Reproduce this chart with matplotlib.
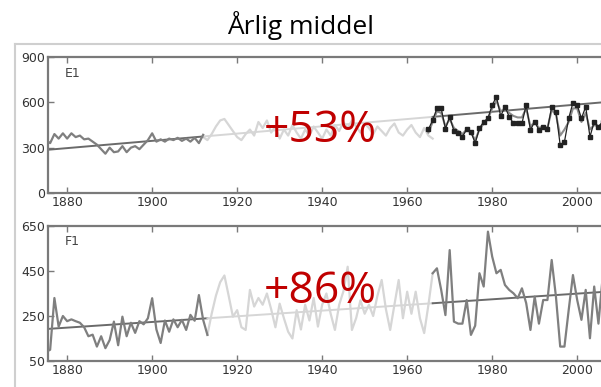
import numpy as np
import matplotlib
matplotlib.use("Agg")
import matplotlib.pyplot as plt
from matplotlib.lines import Line2D

# ---- data ----
e1_early_years = list(range(1875, 1913))
e1_early = [350, 330, 390, 360, 395, 360, 395, 370, 380, 355, 360, 340, 320, 290, 260,
            300, 270, 275, 310, 270, 300, 310, 290, 320, 350, 395, 340, 355, 340, 360,
            350, 365, 345, 360, 340, 365, 330, 385]
e1_mid_years = list(range(1912, 1967))
e1_mid = [370, 350, 390, 440, 480, 490, 450, 410, 370, 350, 390, 420, 380, 470, 430,
          480, 400, 440, 360, 420, 380, 450, 400, 360, 420, 380, 440, 400, 360, 420,
          380, 450, 410, 470, 430, 480, 440, 400, 460, 430, 390, 440, 410, 380, 430,
          460, 400, 380, 420, 450, 400, 370, 430, 380, 360]
e1_late_years = list(range(1965, 2007))
e1_late_obs = [421, 483, 560, 560, 425, 505, 410, 395, 373, 421, 406, 329, 428, 472,
               494, 582, 637, 509, 571, 505, 461, 461, 461, 582, 417, 472, 417, 439,
               421, 571, 538, 317, 339, 494, 598, 582, 494, 571, 372, 472, 439, 472]
e1_late_sim = [400, 470, 540, 530, 440, 490, 430, 410, 390, 420, 400, 350, 420, 460,
               490, 560, 610, 540, 560, 530, 510, 500, 500, 560, 440, 470, 430, 440,
               430, 550, 520, 380, 420, 470, 560, 560, 470, 530, 420, 450, 440, 460]
e1_trend_years = [1875, 2006]
e1_trend = [285, 600]

f1_early_years = list(range(1875, 1914))
f1_early = [90, 100, 330, 203, 250, 227, 235, 227, 220, 200, 160, 167, 114, 160, 107,
            143, 225, 120, 247, 160, 220, 175, 227, 213, 240, 329, 190, 130, 230, 180,
            235, 200, 233, 188, 255, 229, 343, 233, 166]
f1_mid_years = list(range(1913, 1967))
f1_mid = [166, 260, 340, 400, 430, 340, 247, 276, 200, 188, 366, 292, 330, 300, 350,
          280, 200, 305, 240, 180, 150, 276, 190, 300, 230, 330, 203, 300, 350, 260,
          188, 300, 360, 469, 188, 241, 320, 260, 300, 250, 340, 410, 280, 188, 300,
          410, 240, 358, 260, 358, 240, 174, 300, 440]
f1_late_years = list(range(1966, 2007))
f1_late = [440, 462, 366, 254, 543, 225, 216, 216, 321, 166, 207, 440, 381, 625, 514,
           440, 455, 388, 366, 351, 329, 373, 307, 188, 336, 216, 321, 321, 499, 336,
           114, 114, 277, 432, 321, 233, 366, 151, 381, 216, 425]
f1_trend_years = [1875, 2006]
f1_trend = [192, 357]

xticks = [1880, 1900, 1920, 1940, 1960, 1980, 2000]
e1_yticks = [0, 300, 600, 900]
f1_yticks = [50, 250, 450, 650]

DARK = "#7f7f7f"
LIGHT = "#d6d6d6"
TREND_DARK = "#6a6a6a"
SPINE = "#7a7a7a"
RED = "#c00000"


def trend_piece(years, vals, a, b):
    xs = np.array([a, b], dtype=float)
    return xs, np.interp(xs, years, vals)


def style_axes(ax, yticks, ylim):
    ax.set_xlim(1875.5, 2007.0)
    ax.set_ylim(*ylim)
    ax.set_xticks(xticks)
    ax.set_yticks(yticks)
    ax.tick_params(direction="in", length=4, width=1, colors=SPINE,
                   top=True, right=True, labelsize=9, labelcolor="#333333", pad=2)
    for s in ax.spines.values():
        s.set_color(SPINE)
        s.set_linewidth(1.6)


fig = plt.figure(figsize=(6.01, 3.87), dpi=100)
ax1 = fig.add_axes([0.0799, 0.5013, 0.93, 0.3514])
ax2 = fig.add_axes([0.0799, 0.0672, 0.93, 0.3488])

# ---- E1 ----
for a, b, c in [(1875, 1912, TREND_DARK), (1912, 1966, LIGHT), (1966, 2006, TREND_DARK)]:
    tx, ty = trend_piece(e1_trend_years, e1_trend, a, b)
    ax1.plot(tx, ty, color=c, lw=1.4, zorder=2)
ax1.plot(e1_early_years, e1_early, color=DARK, lw=1.6, zorder=3)
ax1.plot(e1_mid_years, e1_mid, color=LIGHT, lw=1.6, zorder=1)
ax1.plot(e1_late_years, e1_late_sim, color="#8c8c8c", lw=1.5, zorder=3)
ax1.plot(e1_late_years, e1_late_obs, color="#222222", lw=0.9, marker="s",
         ms=2.2, zorder=4)
ax1.text(0.03, 0.93, "E1", transform=ax1.transAxes, fontsize=9, color="#444444",
         va="top", ha="left")
ax1.text(1939.5, 410, "+53%", color=RED, fontsize=32, family="Open Sans",
         ha="center", va="center", zorder=5)
style_axes(ax1, e1_yticks, (0, 900))

# ---- F1 ----
for a, b, c in [(1875, 1913, TREND_DARK), (1913, 1966, LIGHT), (1966, 2006, TREND_DARK)]:
    tx, ty = trend_piece(f1_trend_years, f1_trend, a, b)
    ax2.plot(tx, ty, color=c, lw=1.4, zorder=2)
ax2.plot(f1_early_years, f1_early, color=DARK, lw=1.6, zorder=3)
ax2.plot(f1_mid_years, f1_mid, color=LIGHT, lw=1.6, zorder=1)
ax2.plot(f1_late_years, f1_late, color=DARK, lw=1.6, zorder=3)
ax2.text(0.03, 0.93, "F1", transform=ax2.transAxes, fontsize=9, color="#444444",
         va="top", ha="left")
ax2.text(1939.5, 360, "+86%", color=RED, fontsize=32, family="Open Sans",
         ha="center", va="center", zorder=5)
style_axes(ax2, f1_yticks, (50, 650))

# outer frame of the original figure
fig.add_artist(Line2D([15 / 601, 15 / 601], [0, 1 - 44 / 387], color="#cfcfcf", lw=1.5))
fig.add_artist(Line2D([15 / 601, 1], [1 - 44 / 387, 1 - 44 / 387], color="#cfcfcf", lw=1.5))

fig.text(0.5, 1 - 26 / 387, "Årlig middel", ha="center", va="center",
         fontsize=19, family="Open Sans", color="black")

fig.savefig("out.png", dpi=100)
